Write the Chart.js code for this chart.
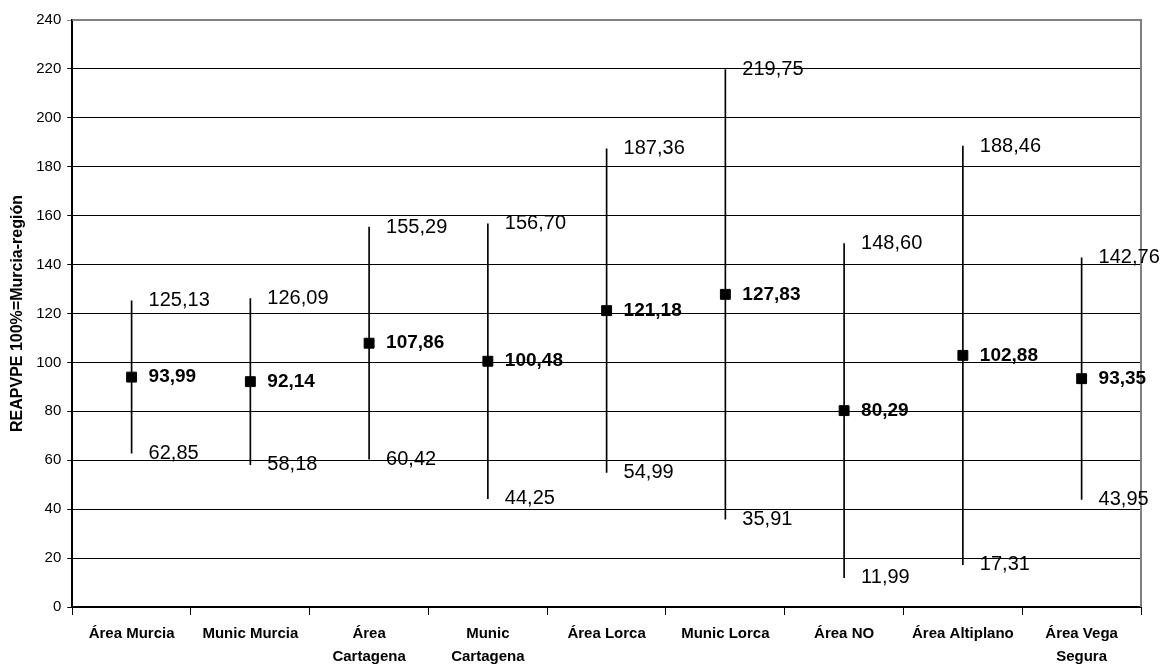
<!DOCTYPE html>
<html>
<head>
<meta charset="utf-8">
<script src="https://cdn.jsdelivr.net/npm/chart.js@4/dist/chart.umd.min.js"></script>
<style>
  body { margin: 0; background: #fff; }
  #wrap { width: 1163px; height: 665px; }
</style>
</head>
<body>
<div id="wrap"><canvas id="myChart"></canvas></div>
<script>
var categories = [
    "Área Murcia", "Munic Murcia", ["Área", "Cartagena"], ["Munic", "Cartagena"],
    "Área Lorca", "Munic Lorca", "Área NO", "Área Altiplano", ["Área Vega", "Segura"]
];
var means = [93.99, 92.14, 107.86, 100.48, 121.18, 127.83, 80.29, 102.88, 93.35];
var highs = [125.13, 126.09, 155.29, 156.70, 187.36, 219.75, 148.60, 188.46, 142.76];
var lows = [62.85, 58.18, 60.42, 44.25, 54.99, 35.91, 11.99, 17.31, 43.95];

var FONT = "'Liberation Sans', Arial, sans-serif";

function fmt(v) {
    return v.toFixed(2).replace(".", ",");
}

// grey frame round the plot area (top and right edges)
var framePlugin = {
    id: 'frame',
    beforeDatasetsDraw: function (chart) {
        var a = chart.chartArea, ctx = chart.ctx;
        ctx.save();
        ctx.strokeStyle = '#808080';
        ctx.lineWidth = 2;
        ctx.beginPath();
        ctx.moveTo(a.left, a.top);
        ctx.lineTo(a.right, a.top);
        ctx.lineTo(a.right, a.bottom);
        ctx.stroke();
        ctx.restore();
    }
};

// value labels to the right of each range line
var labelPlugin = {
    id: 'rangeLabels',
    afterDatasetsDraw: function (chart) {
        var ctx = chart.ctx, x = chart.scales.x, y = chart.scales.y;
        ctx.save();
        ctx.fillStyle = '#000';
        ctx.textAlign = 'left';
        ctx.textBaseline = 'middle';
        for (var i = 0; i < means.length; i++) {
            var px = x.getPixelForValue(i) + 17;
            ctx.font = '20px ' + FONT;
            ctx.fillText(fmt(highs[i]), px, y.getPixelForValue(highs[i]));
            ctx.fillText(fmt(lows[i]), px, y.getPixelForValue(lows[i]));
            ctx.font = 'bold 19px ' + FONT;
            ctx.fillText(fmt(means[i]), px, y.getPixelForValue(means[i]));
        }
        ctx.restore();
    }
};

var ranges = lows.map(function (l, i) { return [l, highs[i]]; });

new Chart(document.getElementById("myChart"), {
    data: {
        labels: categories,
        datasets: [{
            type: 'line',
            label: 'Media',
            data: means,
            showLine: false,
            pointStyle: 'rect',
            pointRadius: 7,
            pointHoverRadius: 7,
            backgroundColor: '#000',
            borderColor: '#000',
            borderWidth: 1
        }, {
            type: 'bar',
            label: 'Rango',
            data: ranges,
            barThickness: 1,
            backgroundColor: '#000',
            borderWidth: 0
        }]
    },
    options: {
        responsive: true,
        maintainAspectRatio: false,
        animation: false,
        layout: { padding: { top: 20, right: 22, left: 4, bottom: 0 } },
        plugins: {
            legend: { display: false },
            tooltip: { enabled: false }
        },
        scales: {
            x: {
                offset: true,
                afterFit: function (scale) { scale.height = 58; },
                grid: {
                    offset: true,
                    drawOnChartArea: false,
                    color: '#000',
                    tickLength: 8,
                    lineWidth: 1
                },
                border: { color: '#000', width: 2 },
                ticks: {
                    color: '#000',
                    maxRotation: 0,
                    autoSkip: false,
                    padding: 7,
                    font: { family: FONT, size: 15, weight: 'bold', lineHeight: 1.55 }
                }
            },
            y: {
                min: 0,
                max: 240,
                ticks: {
                    stepSize: 20,
                    color: '#000',
                    padding: 6,
                    font: { family: FONT, size: 15 }
                },
                grid: {
                    color: function (c) { return c.tick && c.tick.value === 240 ? '#808080' : '#000'; },
                    lineWidth: 1,
                    tickLength: 5
                },
                border: { color: '#000', width: 2 },
                title: {
                    display: true,
                    text: 'REAPVPE 100%=Murcia-región',
                    color: '#000',
                    padding: { top: 4, bottom: 3 },
                    font: { family: FONT, size: 16, weight: 'bold' }
                }
            }
        }
    },
    plugins: [framePlugin, labelPlugin]
});
</script>
</body>
</html>
